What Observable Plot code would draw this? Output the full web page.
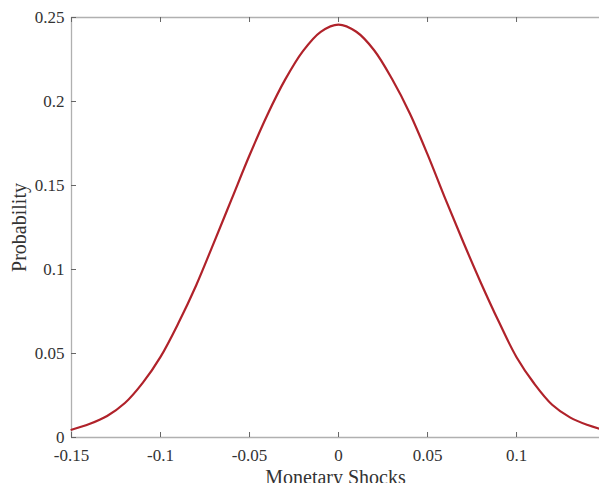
<!DOCTYPE html>
<html>
<head>
<meta charset="utf-8">
<script src="https://cdn.jsdelivr.net/npm/d3@7"></script>
<script src="https://cdn.jsdelivr.net/npm/@observablehq/plot@0.6"></script>
<style>
  html, body { margin: 0; padding: 0; background: #fff; }
  #chart svg { display: block; }
</style>
</head>
<body>
<div id="chart"></div>
<script>
// Monetary shock values (x) and probability (y)
const shocks = [-0.15, -0.14, -0.13, -0.12, -0.11, -0.10, -0.09, -0.08, -0.07, -0.06, -0.05, -0.04, -0.03, -0.02, -0.01,
  0, 0.01, 0.02, 0.03, 0.04, 0.05, 0.06, 0.07, 0.08, 0.09, 0.10, 0.11, 0.12, 0.13, 0.14, 0.1466];
const probability = [0.0046, 0.0080, 0.0128, 0.0205, 0.0325, 0.0480, 0.0680, 0.0905, 0.1160, 0.1420, 0.1680, 0.1920, 0.2130, 0.2300, 0.2415,
  0.2458, 0.2415, 0.2305, 0.2135, 0.1930, 0.1685, 0.1420, 0.1165, 0.0920, 0.0690, 0.0478, 0.0320, 0.0195, 0.0120, 0.0074, 0.0052];
const xTicks = [-0.15, -0.1, -0.05, 0, 0.05, 0.1];
const xTickLabels = ["-0.15", "-0.1", "-0.05", "0", "0.05", "0.1"];
const yTicks = [0, 0.05, 0.1, 0.15, 0.2, 0.25];
const yTickLabels = ["0", "0.05", "0.1", "0.15", "0.2", "0.25"];
const xDomain = [-0.15, 0.1466];
const yDomain = [0, 0.25];

const data = shocks.map((x, i) => ({x, y: probability[i]}));
const font = "'Liberation Serif', 'DejaVu Serif', serif";

const W = 599, H = 483, mL = 71, mR = 0, mT = 17, mB = 46;
const innerW = W - mL - mR, innerH = H - mT - mB, tick = 5;

const chart = Plot.plot({
  width: W,
  height: H,
  marginLeft: mL,
  marginRight: mR,
  marginTop: mT,
  marginBottom: mB,
  style: {fontFamily: font, fontSize: "17px", color: "#333", background: "#fff", overflow: "visible"},
  x: {domain: xDomain},
  y: {domain: yDomain},
  marks: [
    Plot.ruleX([xDomain[0]], {stroke: "#b0b0b0", strokeWidth: 1.3}),
    Plot.ruleY([yDomain[0]], {stroke: "#b0b0b0", strokeWidth: 1.3}),
    Plot.ruleY([yDomain[1]], {stroke: "#b0b0b0", strokeWidth: 1.3}),
    // inward ticks
    Plot.ruleX(xTicks, {x: d => d, insetTop: innerH - tick, stroke: "#666", strokeWidth: 1}),
    Plot.ruleX(xTicks, {x: d => d, insetBottom: innerH - tick, stroke: "#666", strokeWidth: 1}),
    Plot.ruleY(yTicks, {y: d => d, insetRight: innerW - tick, stroke: "#666", strokeWidth: 1}),
    Plot.axisX({anchor: "bottom", ticks: xTicks, tickFormat: (d) => xTickLabels[xTicks.indexOf(d)], tickSize: 0, tickPadding: 11, label: null, fill: "#333", fontSize: 17}),
    Plot.axisY({anchor: "left", ticks: yTicks, tickFormat: (d) => yTickLabels[yTicks.indexOf(d)], tickSize: 0, tickPadding: 7, label: null, fill: "#333", fontSize: 17}),
    Plot.line(data, {x: "x", y: "y", stroke: "#b0222a", strokeWidth: 2.2, curve: "catmull-rom"}),
    Plot.text(["Monetary Shocks"], {frameAnchor: "bottom", lineAnchor: "middle", textAnchor: "middle", dy: 40, text: d => d, fontSize: 20, fill: "#333"}),
    Plot.text(["Probability"], {frameAnchor: "left", lineAnchor: "middle", textAnchor: "middle", dx: -52, rotate: -90, text: d => d, fontSize: 20, fill: "#333"})
  ]
});
document.getElementById("chart").appendChild(chart);
</script>
</body>
</html>
